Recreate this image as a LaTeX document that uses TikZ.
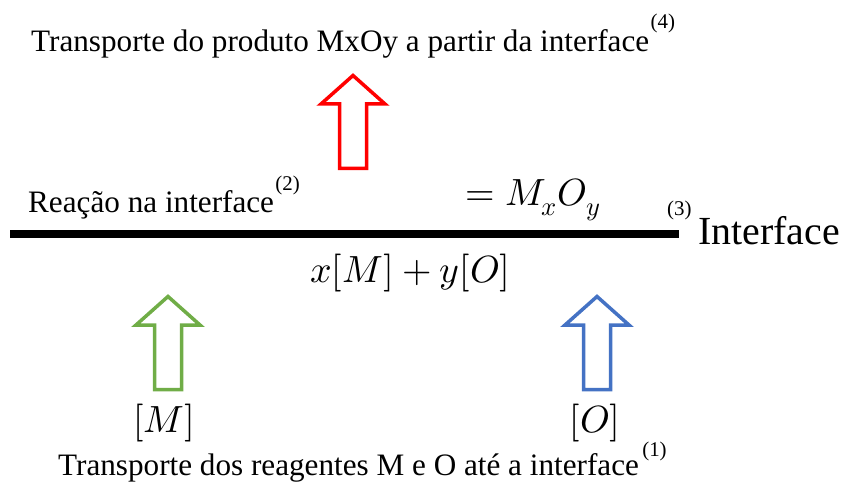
\documentclass[tikz,border=0pt]{standalone}
\usepackage{fontspec,unicode-math}
\setmainfont{Liberation Serif}
\usetikzlibrary{positioning}

\definecolor{arrowred}{RGB}{255,0,0}
\definecolor{arrowgreen}{RGB}{112,173,71}
\definecolor{arrowblue}{RGB}{68,114,196}

\tikzset{
  uparrow/.pic={
    \path[pic actions] (0,2.5)--(32,31)--(13.5,31)--(13.5,95.5)--(-13.5,95.5)
      --(-13.5,31)--(-32,31)--cycle;
  }
}

\begin{document}
\begin{tikzpicture}[x=1bp,y=-1bp,
  caption/.style={font=\fontsize{31.3}{33}\selectfont,anchor=base west,inner sep=0},
  refno/.style={font=\fontsize{21}{22}\selectfont,anchor=base west,inner sep=0},
  chem/.style={font=\fontsize{38}{40}\selectfont,anchor=base,inner sep=0},
  hollow/.style={line width=3.5bp,fill=white,line join=miter}]
\useasboundingbox (0,0) rectangle (841,490);

% interface line
\coordinate (ifleft) at (10,234);
\coordinate (ifright) at (679,234);
\draw[line width=8.5bp] (ifleft)--(ifright);

% block arrows
\pic[hollow,draw=arrowred] at (353,73) {uparrow};
\pic[hollow,draw=arrowgreen] at (168,294) {uparrow};
\pic[hollow,draw=arrowblue] at (597,294) {uparrow};

% texts
\node[caption] (product) at (31,52) {Transporte do produto MxOy a partir da interface};
\node[refno] (ref4) at ([shift={(1,-23)}]product.base east) {(4)};
\node[caption] (reaction) at (28,213) {Reação na interface};
\node[refno] (ref2) at ([shift={(1,-22)}]reaction.base east) {(2)};
\node[refno] (ref3) at (667,216) {(3)};
\node[font=\fontsize{40}{42}\selectfont,anchor=base west,inner sep=0] (iface) at (698,245) {Interface};
\node[caption] (reagents) at (58,475) {Transporte dos reagentes M e O até a interface};
\node[refno] (ref1) at ([shift={(3,-19)}]reagents.base east) {(1)};

% equation
\node[chem] (eqright) at (533,206) {$=M_xO_y$};
\node[chem] (eqleft) at (410,283) {$x[M]+y[O]$};
\node[chem] (conc1) at (164,432) {$[M]$};
\node[chem] (conc2) at (595,432) {$[O]$};
\end{tikzpicture}
\end{document}
